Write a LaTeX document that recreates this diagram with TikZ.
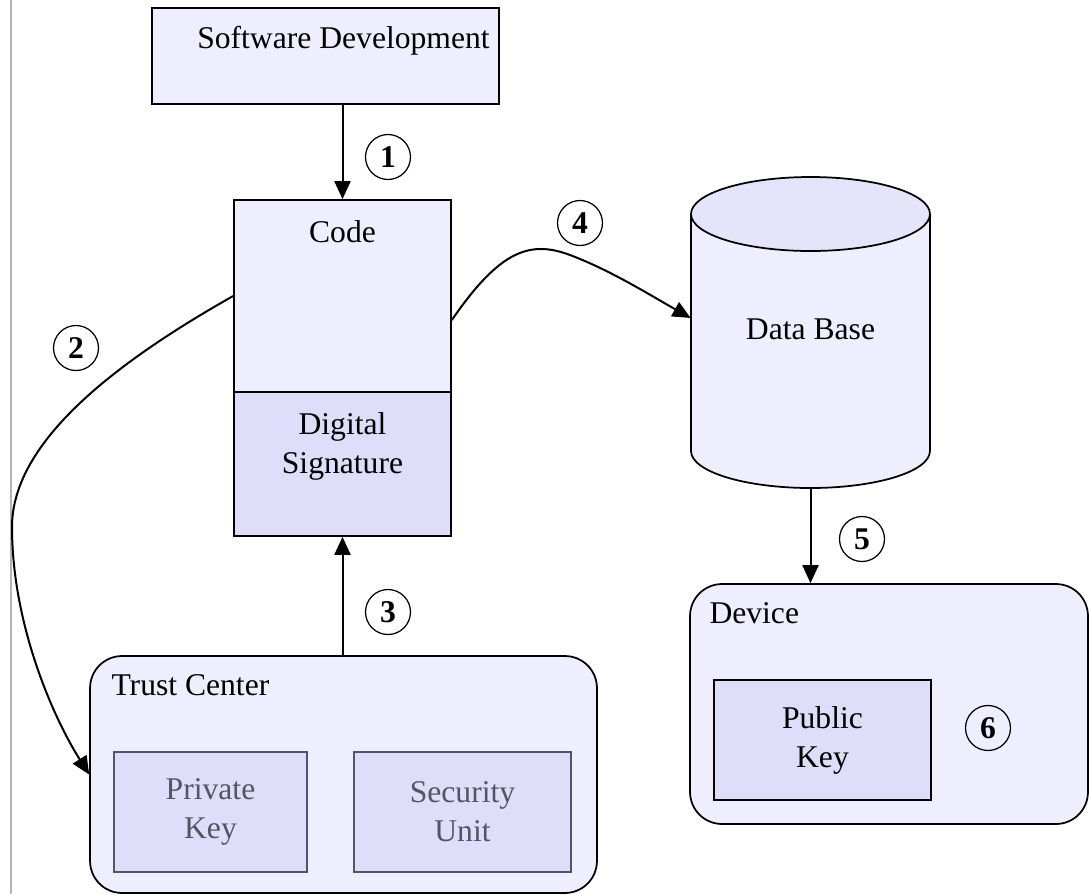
\documentclass[tikz,border=0pt]{standalone}
\usepackage{fontspec}
\setmainfont{Liberation Serif}
\usetikzlibrary{arrows.meta,positioning}

\definecolor{paleblue}{RGB}{238,238,255}
\definecolor{midblue}{RGB}{222,222,251}
\definecolor{capblue}{RGB}{228,228,250}
\definecolor{dimgrey}{RGB}{84,84,100}
\definecolor{railgrey}{RGB}{180,180,180}

\begin{document}
\begin{tikzpicture}[x=0.02cm, y=-0.02cm,
    font=\fontsize{18}{22.2}\selectfont,
    box/.style={draw, line width=0.035cm, fill=paleblue, inner sep=0pt},
    keybox/.style={box, fill=midblue, align=center},
    group/.style={box, rounded corners=0.64cm},
    flow/.style={line width=0.04cm, -{Triangle[length=0.36cm,width=0.32cm]}},
    stepno/.style={draw, circle, line width=0.025cm, minimum size=0.9cm,
        inner sep=0pt, font=\fontsize{18}{20}\selectfont\bfseries}]
                \useasboundingbox (0,0) rectangle (1090,894);
                \draw [railgrey, line width=0.04cm] (11,0) -- (11,894);

                % source and signed code
                \node [box, minimum width=6.94cm, minimum height=1.92cm,
                    label={[anchor=center, xshift=0.36cm, yshift=-0.68cm]north:Software Development}] (sd) at (325.5,56) {};
                \node [box, minimum width=4.34cm, minimum height=3.84cm,
                    label={[anchor=center, yshift=-0.66cm]north:Code}] (code) at (342.5,296) {};
                \node [box, fill=midblue, minimum width=4.34cm, minimum height=2.88cm, below=-0.035cm of code,
                    label={[align=center, anchor=center, yshift=-1.1cm]north:Digital\\Signature}] (sig) {};

                % data base cylinder
                \fill [paleblue] (691,214) -- (691,451)
                    arc [start angle=180, end angle=360, x radius=2.39cm, y radius=0.74cm]
                    -- (930,214)
                    arc [start angle=0, end angle=180, x radius=2.39cm, y radius=0.74cm] -- cycle;
                \draw [line width=0.035cm] (691,214) -- (691,451)
                    arc [start angle=180, end angle=360, x radius=2.39cm, y radius=0.74cm]
                    -- (930,214);
                \draw [line width=0.035cm, fill=capblue] (810.5,214) ellipse [x radius=2.39cm, y radius=0.74cm];
                \node [minimum width=4.78cm, minimum height=6.22cm, inner sep=0pt, text depth=0.12cm] (db) at (810.5,332.5) {Data Base};

                % trust center
                \node [group, minimum width=10.14cm, minimum height=4.74cm,
                    label={[anchor=west, inner sep=0pt, xshift=0.44cm, yshift=-0.6cm]north west:Trust Center}] (tc) at (343.5,774.5) {};
                \node [keybox, draw=dimgrey, text=dimgrey, minimum width=3.86cm, minimum height=2.4cm] (priv) at (210.5,812) {Private\\Key};
                \node [keybox, draw=dimgrey, text=dimgrey, minimum width=4.34cm, minimum height=2.4cm] (unit) at (462.5,812) {Security\\Unit};

                % device
                \node [group, minimum width=7.96cm, minimum height=4.8cm,
                    label={[anchor=west, inner sep=0pt, xshift=0.4cm, yshift=-0.6cm]north west:Device}] (dev) at (889,704) {};
                \node [keybox, minimum width=4.34cm, minimum height=2.4cm] (pub) at (822.5,740) {Public\\Key};

                % connectors
                \draw [flow] (code.north |- sd.south) -- (code.north);
                \draw [flow] (code.west) .. controls (120,360) and (12,440) .. (12,527)
                    .. controls (12,620) and (50,712) .. (tc.west);
                \draw [flow] (sig.south |- tc.north) -- (sig.south);
                \draw [flow] ([yshift=-0.48cm]code.east) .. controls (500,250) and (530,240) .. (570,255)
                    .. controls (610,270) and (650,295) .. ([yshift=0.29cm]db.west);
                \draw [flow] (db.south) -- (db.south |- dev.north);

                % step numbers
                \node [stepno] (n1) at (388,157) {1};
                \node [stepno] (n2) at (76,348) {2};
                \node [stepno] (n3) at (388,612) {3};
                \node [stepno] (n4) at (580,223) {4};
                \node [stepno] (n5) at (862,539) {5};
                \node [stepno] (n6) at (988,728) {6};
            \end{tikzpicture}
\end{document}
